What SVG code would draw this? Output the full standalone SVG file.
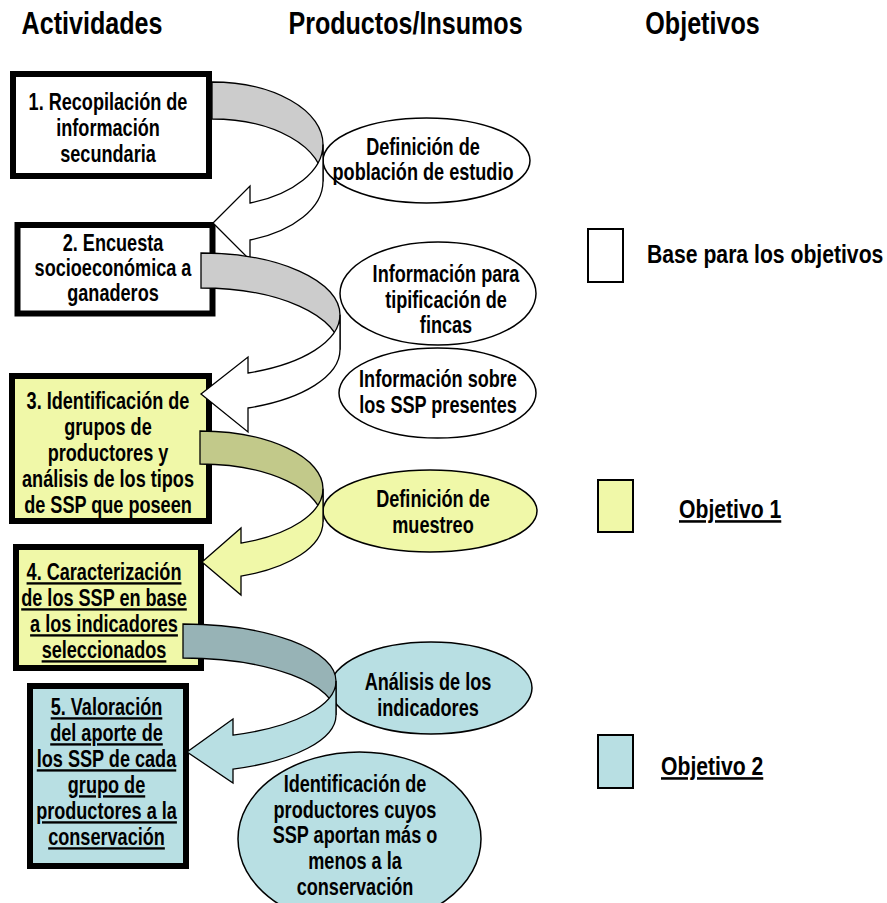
<svg xmlns="http://www.w3.org/2000/svg" width="887" height="903" viewBox="0 0 887 903">
<style>
.t{font-family:"Liberation Sans",Arial,sans-serif;font-weight:bold;font-size:23.5px;text-anchor:middle;fill:#000}
.h{font-size:31px}
.lg{font-size:25.5px;text-anchor:start}
.u{text-decoration:underline}
.box{stroke:#000;stroke-width:6}
.ell{stroke:#000;stroke-width:1.5}
.arr{stroke:#000;stroke-width:1.3;stroke-linejoin:miter}
.leg{stroke:#000;stroke-width:2}
.w{fill:#fff}.y{fill:#F0F8A8}.b{fill:#B8DFE3}
.gb{fill:#CCCCCC}.yb{fill:#C2C98A}.bb{fill:#97B3B6}
</style>
<rect width="887" height="903" fill="#fff"/>
<g id="headers">
<g transform="translate(92 0) scale(0.81 1)"><text class="t h" x="0" y="34">Actividades</text></g>
<g transform="translate(405.5 0) scale(0.81 1)"><text class="t h" x="0" y="34">Productos/Insumos</text></g>
<g transform="translate(702.5 0) scale(0.81 1)"><text class="t h" x="0" y="34">Objetivos</text></g>
</g>
<g id="box1"><rect class="box w" x="13" y="74" width="196" height="102"/>
<g transform="translate(108 0) scale(0.77 1)"><text class="t" x="0" y="110">1. Recopilación de</text><text class="t" x="0" y="136">información</text><text class="t" x="0" y="162">secundaria</text></g></g>
<g id="box2"><rect class="box w" x="17.5" y="225" width="195" height="88.5"/>
<g transform="translate(113 0) scale(0.77 1)"><text class="t" x="0" y="251">2. Encuesta</text><text class="t" x="0" y="276">socioeconómica a</text><text class="t" x="0" y="301">ganaderos</text></g></g>
<g id="box3"><rect class="box y" x="12" y="376" width="197" height="145"/>
<g transform="translate(108 0) scale(0.77 1)"><text class="t" x="0" y="409">3. Identificación de</text><text class="t" x="0" y="435">grupos de</text><text class="t" x="0" y="461">productores y</text><text class="t" x="0" y="487">análisis de los tipos</text><text class="t" x="0" y="513">de SSP que poseen</text></g></g>
<g id="box4"><rect class="box y" x="16" y="547" width="185" height="121"/>
<g transform="translate(104 0) scale(0.77 1)"><text class="t u" x="0" y="580">4. Caracterización</text><text class="t u" x="0" y="606">de los SSP en base</text><text class="t u" x="0" y="632">a los indicadores</text><text class="t u" x="0" y="658">seleccionados</text></g></g>
<g id="box5"><rect class="box b" x="30" y="686" width="156" height="180"/>
<g transform="translate(106.5 0) scale(0.77 1)"><text class="t u" x="0" y="715">5. Valoración</text><text class="t u" x="0" y="741">del aporte de</text><text class="t u" x="0" y="767">los SSP de cada</text><text class="t u" x="0" y="793">grupo de</text><text class="t u" x="0" y="819">productores a la</text><text class="t u" x="0" y="845">conservación</text></g></g>
<g id="ell1"><ellipse class="ell w" cx="426.5" cy="160.5" rx="103.5" ry="42.5"/>
<g transform="translate(423 0) scale(0.77 1)"><text class="t" x="0" y="155">Definición de</text><text class="t" x="0" y="180">población de estudio</text></g></g>
<g id="ell2"><ellipse class="ell w" cx="438" cy="293.5" rx="98" ry="51.5"/>
<g transform="translate(446 0) scale(0.77 1)"><text class="t" x="0" y="282">Información para</text><text class="t" x="0" y="308">tipificación de</text><text class="t" x="0" y="333">fincas</text></g></g>
<g id="ell3"><ellipse class="ell w" cx="437.5" cy="393" rx="98.5" ry="45"/>
<g transform="translate(438 0) scale(0.77 1)"><text class="t" x="0" y="387">Información sobre</text><text class="t" x="0" y="413">los SSP presentes</text></g></g>
<g id="ell4"><ellipse class="ell y" cx="430" cy="511" rx="107" ry="41"/>
<g transform="translate(433 0) scale(0.77 1)"><text class="t" x="0" y="507">Definición de</text><text class="t" x="0" y="533">muestreo</text></g></g>
<g id="ell5"><ellipse class="ell b" cx="431" cy="688" rx="101" ry="46"/>
<g transform="translate(428 0) scale(0.77 1)"><text class="t" x="0" y="690">Análisis de los</text><text class="t" x="0" y="716">indicadores</text></g></g>
<g id="ell6"><ellipse class="ell b" cx="359.5" cy="839" rx="121.5" ry="87"/>
<g transform="translate(355 0) scale(0.77 1)"><text class="t" x="0" y="792">Identificación de</text><text class="t" x="0" y="818">productores cuyos</text><text class="t" x="0" y="843">SSP aportan más o</text><text class="t" x="0" y="869">menos a la</text><text class="t" x="0" y="895">conservación</text></g></g>
<g id="connectors">
<path class="arr gb" d="M212,82 A111,62.4 0 0 1 323,144.4 L323,181.4 A111,62.4 0 0 0 212,119 Z"/>
<path class="arr w" d="M323,144.4 A111,62.4 0 0 1 250,203 L250,186 L213,223 L250,260 L250,240 A111,62.4 0 0 0 323,181.4 Z"/>
<path class="arr gb" d="M201,253 A139,61.8 0 0 1 340,314.8 L340,349.8 A139,61.8 0 0 0 201,288 Z"/>
<path class="arr w" d="M340,314.8 A139,61.8 0 0 1 248,373 L248,357 L201,394 L248,432 L248,408 A139,61.8 0 0 0 340,349.8 Z"/>
<path class="arr yb" d="M200,431 A123,57.7 0 0 1 323,488.7 L323,521.7 A123,57.7 0 0 0 200,464 Z"/>
<path class="arr y" d="M323,488.7 A123,57.7 0 0 1 241,543.1 L241,528 L202,562 L241,595 L241,576.1 A123,57.7 0 0 0 323,521.7 Z"/>
<path class="arr bb" d="M183,624 A153,57.1 0 0 1 336,681.1 L336,715.1 A153,57.1 0 0 0 183,658 Z"/>
<path class="arr b" d="M336,681.1 A153,57.1 0 0 1 233,735.1 L233,719 L187,752 L233,783 L233,769.1 A153,57.1 0 0 0 336,715.1 Z"/>
</g>
<g id="legend-base"><rect class="leg w" x="588" y="229" width="35" height="53"/>
<g transform="translate(647 0) scale(0.83 1)"><text class="t lg" x="0" y="263">Base para los objetivos</text></g></g>
<g id="legend-obj1"><rect class="leg y" x="598" y="480" width="35" height="52"/>
<g transform="translate(679 0) scale(0.83 1)"><text class="t lg u" x="0" y="518">Objetivo 1</text></g></g>
<g id="legend-obj2"><rect class="leg b" x="598" y="735" width="35" height="53"/>
<g transform="translate(661 0) scale(0.83 1)"><text class="t lg u" x="0" y="775">Objetivo 2</text></g></g>
</svg>
